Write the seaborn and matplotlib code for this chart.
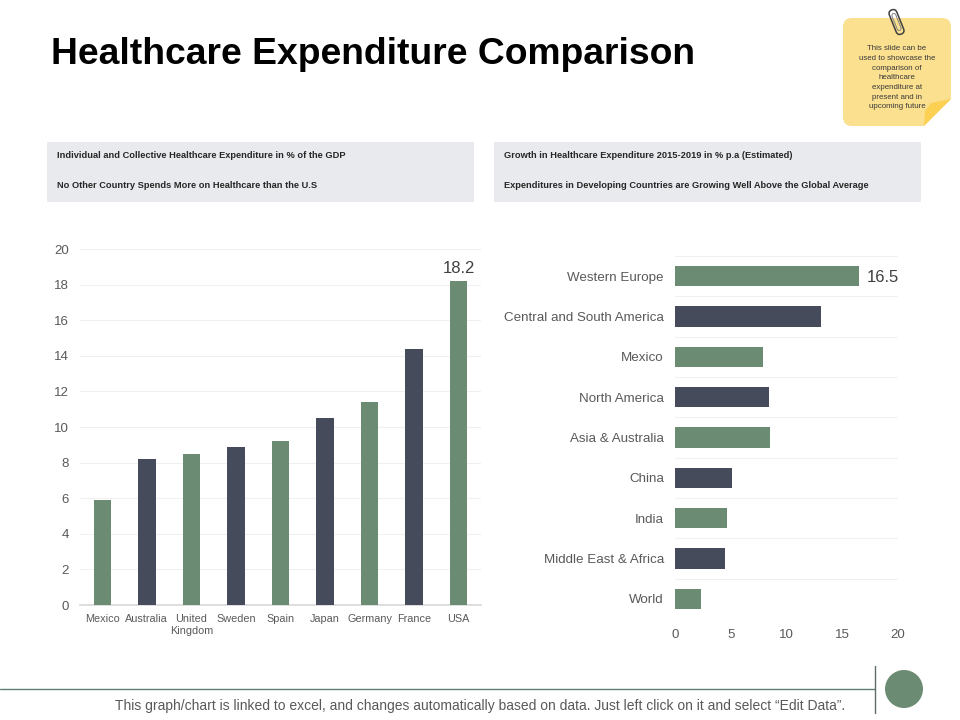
import matplotlib
matplotlib.use('Agg')
import matplotlib.pyplot as plt
from matplotlib.patches import Circle, FancyBboxPatch, Polygon
from matplotlib.transforms import Affine2D
import pandas as pd
import seaborn as sns

countries = ['Mexico', 'Australia', 'United\nKingdom', 'Sweden', 'Spain', 'Japan', 'Germany', 'France', 'USA']
gdp_share = [5.9, 8.2, 8.5, 8.9, 9.2, 10.5, 11.4, 14.4, 18.2]
country_group = ['a', 'b', 'a', 'b', 'a', 'b', 'a', 'b', 'a']

regions = ['Western Europe', 'Central and South America', 'Mexico', 'North America', 'Asia & Australia',
           'China', 'India', 'Middle East & Africa', 'World']
growth = [16.5, 13.1, 7.9, 8.4, 8.5, 5.1, 4.7, 4.5, 2.3]
region_group = ['a', 'b', 'a', 'b', 'a', 'b', 'a', 'b', 'a']

GREEN = '#6b8b73'
DARK = '#454b5b'
GRID = '#f0f0f0'
TEXT = '#595959'
W, H = 960, 720

sns.set_theme(style='white')
plt.rcParams['font.family'] = ['Liberation Sans', 'DejaVu Sans']

gdp_df = pd.DataFrame({'country': countries, 'share': gdp_share, 'group': country_group})
growth_df = pd.DataFrame({'region': regions, 'growth': growth, 'group': region_group})

fig = plt.figure(figsize=(9.6, 7.2), dpi=100)


def add_axes_px(left, top, right, bottom):
    return fig.add_axes([left / W, 1 - bottom / H, (right - left) / W, (bottom - top) / H])


# page decoration, in pixel coordinates
bg = fig.add_axes([0, 0, 1, 1], zorder=0)
bg.set_xlim(0, W)
bg.set_ylim(H, 0)
bg.axis('off')

bg.text(51, 54, 'Healthcare Expenditure Comparison', fontsize=26.85, fontweight='bold', color='black', va='center')

for x0, x1, line1, line2 in [
    (47, 474, 'Individual and Collective Healthcare Expenditure in % of the GDP',
     'No Other Country Spends More on Healthcare than the U.S'),
    (494, 921, 'Growth in Healthcare Expenditure 2015-2019 in % p.a (Estimated)',
     'Expenditures in Developing Countries are Growing Well Above the Global Average'),
]:
    bg.add_patch(FancyBboxPatch((x0, 142), x1 - x0, 60, boxstyle='round,pad=0,rounding_size=1',
                                fc='#e9eaee', ec='none'))
    bg.text(x0 + 10, 156, line1, fontsize=6.65, fontweight='bold', color='#262626', va='center')
    bg.text(x0 + 10, 185, line2, fontsize=6.65, fontweight='bold', color='#262626', va='center')

# sticky note
bg.add_patch(FancyBboxPatch((843, 18), 108, 108, boxstyle='round,pad=0,rounding_size=9', fc='#fbe08f', ec='none'))
bg.add_patch(Polygon([(951, 99), (955, 99), (955, 130), (924, 130), (924, 126)], closed=True, fc='white', ec='none'))
bg.add_patch(Polygon([(951, 99), (931, 103), (925, 111), (924, 126)], closed=True, fc='#fcd053', ec='none'))
clip_rot = Affine2D().rotate_deg_around(896.5, 22, -22) + bg.transData
bg.add_patch(FancyBboxPatch((892.5, 9), 8, 26, boxstyle='round,pad=0,rounding_size=4', fc='none', ec='#404040',
                            lw=1.1, transform=clip_rot))
bg.add_patch(FancyBboxPatch((894.5, 13), 4, 18, boxstyle='round,pad=0,rounding_size=2', fc='none', ec='#808080',
                            lw=0.7, transform=clip_rot))
note = ['This slide can be', 'used to showcase the', 'comparison of', 'healthcare', 'expenditure at',
        'present and in', 'upcoming future']
for i, line in enumerate(note):
    bg.text(897, 49 + i * 9.65, line, fontsize=5.7, color='#3a3a3a', ha='center', va='center')

# footer
bg.plot([0, 875], [689, 689], color='#5f7f70', lw=1)
bg.plot([875, 875], [666, 713], color='#5f6b66', lw=1)
bg.add_patch(Circle((904, 689), 19, fc=GREEN, ec='none'))
bg.text(480, 706, 'This graph/chart is linked to excel, and changes automatically based on data. '
        'Just left click on it and select \u201cEdit Data\u201d.', fontsize=10.0, color='#595959',
        ha='center', va='center')

# left chart
ax1 = add_axes_px(80, 249, 481, 605)
sns.barplot(data=gdp_df, x='country', y='share', hue='group', palette={'a': GREEN, 'b': DARK},
            dodge=False, width=0.39, saturation=1, linewidth=0, legend=False, ax=ax1, zorder=3)
ax1.set_xlim(-0.5, 8.5)
ax1.set_ylim(0, 20)
ax1.set_yticks(range(0, 21, 2))
ax1.set_xlabel('')
ax1.set_ylabel('')
ax1.grid(axis='y', color=GRID, lw=0.8)
ax1.set_axisbelow(True)
sns.despine(ax=ax1, left=True)
ax1.spines['bottom'].set_color('#d9d9d9')
ax1.tick_params(axis='y', length=0, labelsize=9.5, labelcolor=TEXT, pad=8)
ax1.tick_params(axis='x', length=0, labelsize=7.8, labelcolor=TEXT, pad=6.5)
for label in ax1.get_xticklabels():
    label.set_linespacing(1.3)
ax1.text(8, gdp_share[8] + 0.3, '18.2', fontsize=12, color='#404040', ha='center', va='bottom')

# right chart
ax2 = add_axes_px(675, 256, 898, 619)
sns.barplot(data=growth_df, y='region', x='growth', hue='group', palette={'a': GREEN, 'b': DARK},
            dodge=False, width=0.5, saturation=1, linewidth=0, legend=False, orient='h', ax=ax2, zorder=3)
ax2.set_xlim(0, 20)
ax2.set_ylim(8.5, -0.5)
ax2.set_xticks(range(0, 21, 5))
ax2.set_yticks(range(len(regions)))
ax2.set_xlabel('')
ax2.set_ylabel('')
for y in range(len(regions) + 1):
    ax2.axhline(y - 0.5, color=GRID, lw=0.8, zorder=1)
sns.despine(ax=ax2, left=True, bottom=True)
ax2.tick_params(axis='y', length=0, labelsize=9.6, labelcolor=TEXT, pad=8)
ax2.tick_params(axis='x', length=0, labelsize=9.5, labelcolor=TEXT, pad=7)
ax2.text(growth[0] + 0.7, 0.03, '16.5', fontsize=12, color='#404040', ha='left', va='center')

fig.savefig('out.png', dpi=100)
